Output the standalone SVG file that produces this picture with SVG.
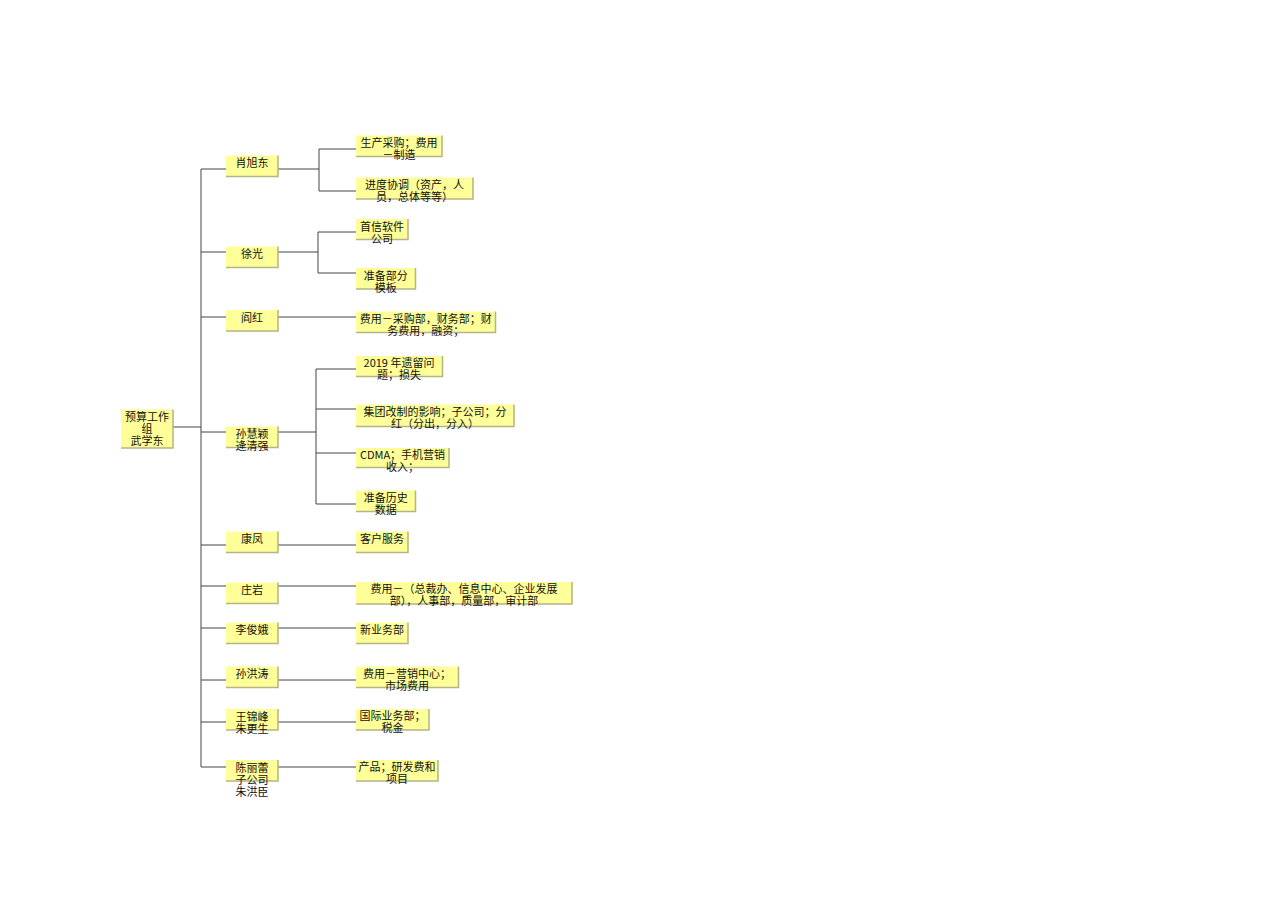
<svg xmlns="http://www.w3.org/2000/svg" width="1286" height="909" viewBox="0 0 1286 909">
<style>
.b{fill:#ffff99;stroke:none}
.s{fill:none;stroke:#b4b486;stroke-width:1.5}
.t{font-family:"Noto Sans CJK SC","Liberation Sans",sans-serif;font-size:11px;fill:#111;text-anchor:middle}
.c{fill:none;stroke:#444;stroke-width:1}
</style>
<rect width="1286" height="909" fill="#ffffff"/>
<g id="connectors">
<path class="c" d="M173,427H201M201,169V767"/>
<path class="c" d="M201,169H226M201,252H226M201,317H226M201,432H226M201,545H226M201,586H226M201,628H226M201,680H226M201,722H226M201,767H226"/>
<path class="c" d="M278,169H319M319,149V191M319,149H356M319,191H356"/>
<path class="c" d="M278,252H318M318,232V273M318,232H356M318,273H356"/>
<path class="c" d="M278,317H356"/>
<path class="c" d="M278,432H316M316,369V504M316,369H356M316,409H356M316,453H356M316,504H356"/>
<path class="c" d="M278,545H356M278,586H356M278,628H356M278,680H356M278,722H356M278,767H356"/>
</g>
<g id="root">
<rect class="b" x="121" y="409.5" width="52" height="38.5"/><path class="s" d="M121,448H173V409.5"/>
<text class="t" x="147" y="421">预算工作</text><text class="t" x="147" y="433">组</text><text class="t" x="147" y="445">武学东</text>
</g>
<g id="n1">
<rect class="b" x="226" y="155.5" width="52" height="21"/><path class="s" d="M226,176.5H278V155.5"/>
<text class="t" x="252" y="167">肖旭东</text>
</g>
<g id="n2">
<rect class="b" x="226" y="246.5" width="52" height="21"/><path class="s" d="M226,267.5H278V246.5"/>
<text class="t" x="252" y="258">徐光</text>
</g>
<g id="n3">
<rect class="b" x="226" y="310" width="52" height="21"/><path class="s" d="M226,331H278V310"/>
<text class="t" x="252" y="321.5">阎红</text>
</g>
<g id="n4">
<rect class="b" x="226" y="426.5" width="52" height="21"/><path class="s" d="M226,447.5H278V426.5"/>
<text class="t" x="252" y="438">孙慧颖</text><text class="t" x="252" y="450">逄清强</text>
</g>
<g id="n5">
<rect class="b" x="226" y="531.5" width="52" height="21"/><path class="s" d="M226,552.5H278V531.5"/>
<text class="t" x="252" y="543">康凤</text>
</g>
<g id="n6">
<rect class="b" x="226" y="582.5" width="52" height="21"/><path class="s" d="M226,603.5H278V582.5"/>
<text class="t" x="252" y="594">庄岩</text>
</g>
<g id="n7">
<rect class="b" x="226" y="622.5" width="52" height="21"/><path class="s" d="M226,643.5H278V622.5"/>
<text class="t" x="252" y="634">李俊娥</text>
</g>
<g id="n8">
<rect class="b" x="226" y="666.5" width="52" height="21"/><path class="s" d="M226,687.5H278V666.5"/>
<text class="t" x="252" y="678">孙洪涛</text>
</g>
<g id="n9">
<rect class="b" x="226" y="709" width="52" height="21"/><path class="s" d="M226,730H278V709"/>
<text class="t" x="252" y="720.5">王锦峰</text><text class="t" x="252" y="732.5">朱更生</text>
</g>
<g id="n10">
<rect class="b" x="226" y="760" width="52" height="21"/><path class="s" d="M226,781H278V760"/>
<text class="t" x="252" y="771.5">陈丽蕾</text><text class="t" x="252" y="783.5">子公司</text><text class="t" x="252" y="795.5">朱洪臣</text>
</g>
<g id="m1">
<rect class="b" x="356" y="135.5" width="86" height="21"/><path class="s" d="M356,156.5H442V135.5"/>
<text class="t" x="399" y="146.5">生产采购；费用</text><text class="t" x="399" y="158.5">－制造</text>
</g>
<g id="m2">
<rect class="b" x="356" y="177.5" width="117" height="21.5"/><path class="s" d="M356,199H473V177.5"/>
<text class="t" x="414.5" y="189">进度协调（资产，人</text><text class="t" x="414.5" y="201">员，总体等等）</text>
</g>
<g id="m3">
<rect class="b" x="356" y="219" width="52" height="20.5"/><path class="s" d="M356,239.5H408V219"/>
<text class="t" x="382" y="230.5">首信软件</text><text class="t" x="382" y="242.5">公司</text>
</g>
<g id="m4">
<rect class="b" x="356" y="268" width="59.5" height="21"/><path class="s" d="M356,289H415.5V268"/>
<text class="t" x="385.8" y="279.5">准备部分</text><text class="t" x="385.8" y="291.5">模板</text>
</g>
<g id="m5">
<rect class="b" x="356" y="311.5" width="139.5" height="21"/><path class="s" d="M356,332.5H495.5V311.5"/>
<text class="t" x="425.8" y="322.5">费用－采购部，财务部；财</text><text class="t" x="425.8" y="334.5">务费用，融资；</text>
</g>
<g id="m6">
<rect class="b" x="356" y="356" width="86.5" height="20.5"/><path class="s" d="M356,376.5H442.5V356"/>
<text class="t" x="399" y="367">2019 年遗留问</text><text class="t" x="399" y="379">题；损失</text>
</g>
<g id="m7">
<rect class="b" x="356" y="404.5" width="158" height="22"/><path class="s" d="M356,426.5H514V404.5"/>
<text class="t" x="435" y="415.5">集团改制的影响；子公司；分</text><text class="t" x="435" y="427.5">红（分出，分入）</text>
</g>
<g id="m8">
<rect class="b" x="356" y="448" width="93" height="19.5"/><path class="s" d="M356,467.5H449V448"/>
<text class="t" x="402.5" y="459">CDMA；手机营销</text><text class="t" x="402.5" y="471">收入；</text>
</g>
<g id="m9">
<rect class="b" x="356" y="490.5" width="59.5" height="21"/><path class="s" d="M356,511.5H415.5V490.5"/>
<text class="t" x="385.8" y="501.5">准备历史</text><text class="t" x="385.8" y="513.5">数据</text>
</g>
<g id="m10">
<rect class="b" x="356" y="531.5" width="52" height="21"/><path class="s" d="M356,552.5H408V531.5"/>
<text class="t" x="382" y="542.5">客户服务</text>
</g>
<g id="m11">
<rect class="b" x="356" y="582" width="216" height="22"/><path class="s" d="M356,604H572V582"/>
<text class="t" x="464" y="592.5">费用－（总裁办、信息中心、企业发展</text><text class="t" x="464" y="604.5">部），人事部，质量部，审计部</text>
</g>
<g id="m12">
<rect class="b" x="356" y="622.5" width="52" height="21"/><path class="s" d="M356,643.5H408V622.5"/>
<text class="t" x="382" y="633.5">新业务部</text>
</g>
<g id="m13">
<rect class="b" x="356" y="666.5" width="102.5" height="21"/><path class="s" d="M356,687.5H458.5V666.5"/>
<text class="t" x="407" y="677.5">费用－营销中心；</text><text class="t" x="407" y="689.5">市场费用</text>
</g>
<g id="m14">
<rect class="b" x="356" y="709" width="73" height="21"/><path class="s" d="M356,730H429V709"/>
<text class="t" x="392.5" y="720">国际业务部；</text><text class="t" x="392.5" y="732">税金</text>
</g>
<g id="m15">
<rect class="b" x="356" y="760" width="82" height="21"/><path class="s" d="M356,781H438V760"/>
<text class="t" x="397" y="771">产品；研发费和</text><text class="t" x="397" y="783">项目</text>
</g>
</svg>
